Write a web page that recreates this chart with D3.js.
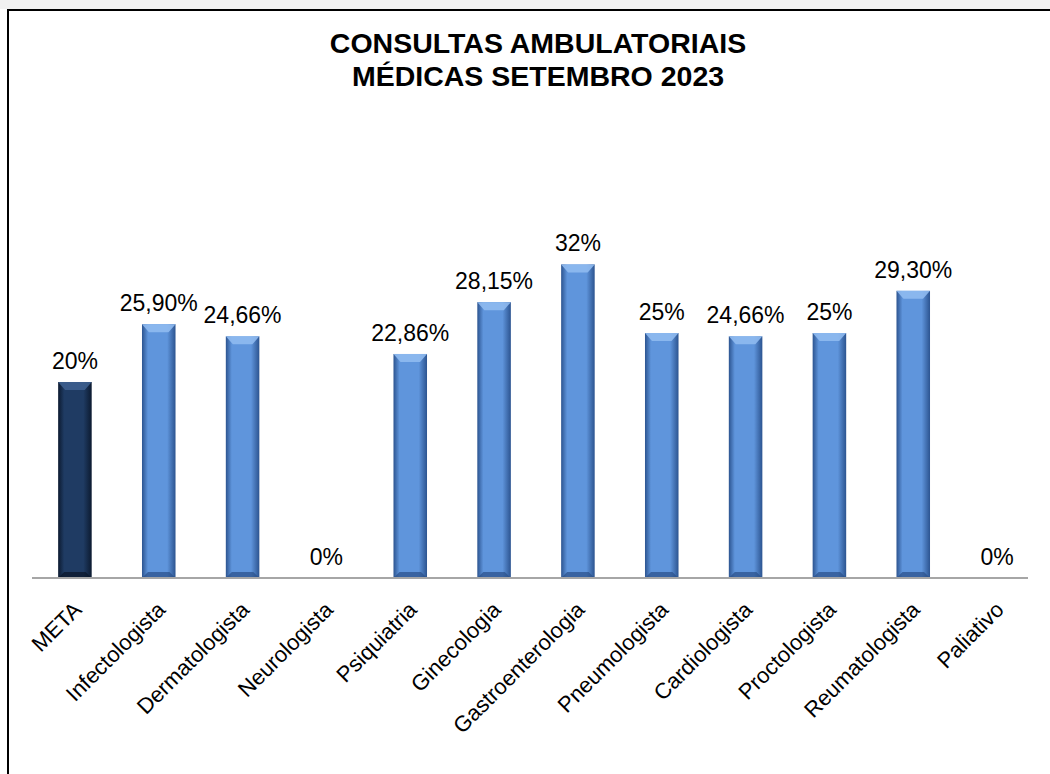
<!DOCTYPE html>
<html>
<head>
<meta charset="utf-8">
<script src="https://cdn.jsdelivr.net/npm/d3@7"></script>
<style>
  html, body { margin: 0; padding: 0; background: #fff; }
  svg { display: block; font-family: Arial, "Liberation Sans", sans-serif; }
</style>
</head>
<body>
<svg id="chart" width="1050" height="774"></svg>
<script>
// Chart data
const categories = ['META', 'Infectologista', 'Dermatologista', 'Neurologista', 'Psiquiatria',
  'Ginecologia', 'Gastroenterologia', 'Pneumologista', 'Cardiologista', 'Proctologista',
  'Reumatologista', 'Paliativo'];
const values = [20, 25.90, 24.66, 0, 22.86, 28.15, 32, 25, 24.66, 25, 29.30, 0];
const valueLabels = ['20%', '25,90%', '24,66%', '0%', '22,86%', '28,15%', '32%', '25%',
  '24,66%', '25%', '29,30%', '0%'];
const titleLines = ['CONSULTAS AMBULATORIAIS', 'MÉDICAS SETEMBRO 2023'];

const svg = d3.select('#chart');
const baseY = 578;

// Frame: light strip on top, black top and left borders
svg.append('rect').attr('x', 0).attr('y', 0).attr('width', 1050).attr('height', 9).attr('fill', '#f1f1f1');
svg.append('rect').attr('x', 7).attr('y', 9).attr('width', 1043).attr('height', 2).attr('fill', '#000');
svg.append('rect').attr('x', 7).attr('y', 9).attr('width', 2).attr('height', 765).attr('fill', '#000');

// Title
svg.append('g')
  .selectAll('text')
  .data(titleLines)
  .join('text')
  .attr('x', 538)
  .attr('y', (d, i) => 53 + i * 33)
  .attr('text-anchor', 'middle')
  .attr('font-size', 28.5)
  .attr('font-weight', 'bold')
  .attr('fill', '#000')
  .text(d => d);

// Scales
const x = d3.scaleBand()
  .domain(categories)
  .range([33, 1039])
  .paddingInner(0.6)
  .paddingOuter(0.3);
const y = d3.scaleLinear().domain([0, 35]).range([baseY, baseY - 343]);

// Gradients for the bevelled bars
const defs = svg.append('defs');
function barGradient(id, edge, mid) {
  const g = defs.append('linearGradient').attr('id', id)
    .attr('x1', '0%').attr('x2', '100%').attr('y1', '0%').attr('y2', '0%');
  g.append('stop').attr('offset', '0%').attr('stop-color', edge);
  g.append('stop').attr('offset', '18%').attr('stop-color', mid);
  g.append('stop').attr('offset', '75%').attr('stop-color', mid);
  g.append('stop').attr('offset', '100%').attr('stop-color', edge);
}
barGradient('gradBlue', '#2c5490', '#5f95dc');
barGradient('gradNavy', '#0c1a30', '#1f3b63');

const isMeta = d => d === 'META';
const bars = svg.append('g')
  .selectAll('g')
  .data(categories.map((c, i) => ({ cat: c, value: values[i], label: valueLabels[i] })))
  .join('g');

// Bar body
bars.filter(d => d.value > 0)
  .append('rect')
  .attr('x', d => x(d.cat))
  .attr('y', d => y(d.value))
  .attr('width', x.bandwidth())
  .attr('height', d => baseY - y(d.value))
  .attr('fill', d => isMeta(d.cat) ? 'url(#gradNavy)' : 'url(#gradBlue)');

// Top bevel highlight
bars.filter(d => d.value > 0)
  .append('path')
  .attr('d', d => {
    const x0 = x(d.cat), w = x.bandwidth(), t = y(d.value);
    return `M${x0},${t} L${x0 + w},${t} L${x0 + w - 7},${t + 8} L${x0 + 7},${t + 8} Z`;
  })
  .attr('fill', d => isMeta(d.cat) ? '#3d5f8e' : '#8fbaf0')
  .attr('opacity', 0.9);

// Bottom shade
bars.filter(d => d.value > 0)
  .append('path')
  .attr('d', d => {
    const x0 = x(d.cat), w = x.bandwidth();
    return `M${x0},${baseY} L${x0 + w},${baseY} L${x0 + w - 6},${baseY - 6} L${x0 + 6},${baseY - 6} Z`;
  })
  .attr('fill', d => isMeta(d.cat) ? '#0a1628' : '#2a4f88')
  .attr('opacity', 0.7);

// Value labels
bars.append('text')
  .attr('x', d => x(d.cat) + x.bandwidth() / 2)
  .attr('y', d => y(d.value) - 13)
  .attr('text-anchor', 'middle')
  .attr('font-size', 23)
  .attr('fill', '#000')
  .text(d => d.label);

// Axis line
svg.append('line')
  .attr('x1', 32).attr('x2', 1028)
  .attr('y1', baseY).attr('y2', baseY)
  .attr('stroke', '#a6a6a6')
  .attr('stroke-width', 2);

// Category labels, rotated
svg.append('g')
  .selectAll('text')
  .data(categories)
  .join('text')
  .attr('transform', d => `translate(${x(d) + x.bandwidth() / 2 + 8},${baseY + 33}) rotate(-45)`)
  .attr('text-anchor', 'end')
  .attr('font-size', 22)
  .attr('fill', '#000')
  .text(d => d);
</script>
</body>
</html>
